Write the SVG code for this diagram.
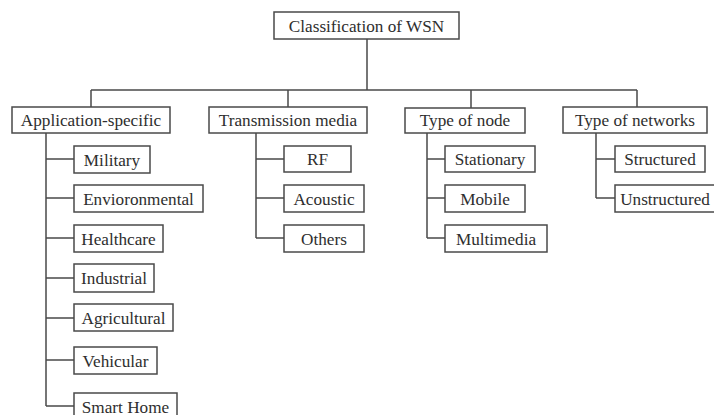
<svg xmlns="http://www.w3.org/2000/svg" width="714" height="415" viewBox="0 0 714 415">
  <style>
    rect { fill: #ffffff; stroke: #4a4a4a; stroke-width: 1.5; }
    text { font-family: "Liberation Serif", "Times New Roman", serif; font-size: 17.2px; fill: #2e2e2e; text-anchor: middle; }
    .conn { fill: none; stroke: #4a4a4a; stroke-width: 1.5; }
  </style>
  <rect x="0" y="0" width="714" height="415" style="stroke:none"/>

  <g id="connectors">
    <!-- root to level-one bus -->
    <path class="conn" d="M367 39 V90 M91 90 H637 M91 90 V107 M288 90 V107 M471 90 V108 M637 90 V107"/>
    <!-- application-specific trunk -->
    <path class="conn" d="M46 133 V406 M46 159 H74 M46 198 H74 M46 238 H74 M46 278 H74 M46 318 H74 M46 360 H74 M46 406 H74"/>
    <!-- transmission media trunk -->
    <path class="conn" d="M256 133 V238 M256 159 H284 M256 198 H284 M256 238 H284"/>
    <!-- type of node trunk -->
    <path class="conn" d="M427 133 V238 M427 159 H445 M427 198 H445 M427 238 H445"/>
    <!-- type of networks trunk -->
    <path class="conn" d="M596 133 V198 M596 159 H615 M596 198 H615"/>
  </g>

  <g id="root">
    <rect x="274" y="12" width="185" height="27"/>
    <text x="366.5" y="31.5">Classification of WSN</text>
  </g>

  <g id="application-specific">
    <rect x="12" y="107" width="158" height="26"/>
    <text x="91" y="126">Application-specific</text>
  </g>
  <g id="transmission-media">
    <rect x="209" y="107" width="158" height="26"/>
    <text x="288" y="126">Transmission media</text>
  </g>
  <g id="type-of-node">
    <rect x="405" y="108" width="120" height="25"/>
    <text x="465" y="126">Type of node</text>
  </g>
  <g id="type-of-networks">
    <rect x="563" y="107" width="144" height="26"/>
    <text x="635" y="126">Type of networks</text>
  </g>

  <g id="military">
    <rect x="74" y="146" width="76" height="27"/>
    <text x="112" y="165.5">Military</text>
  </g>
  <g id="envioronmental">
    <rect x="74" y="185" width="129" height="27"/>
    <text x="138.5" y="204.5">Envioronmental</text>
  </g>
  <g id="healthcare">
    <rect x="74" y="225" width="89" height="27"/>
    <text x="118.5" y="244.5">Healthcare</text>
  </g>
  <g id="industrial">
    <rect x="74" y="264" width="80" height="28"/>
    <text x="114" y="284">Industrial</text>
  </g>
  <g id="agricultural">
    <rect x="74" y="304" width="99" height="27"/>
    <text x="123.5" y="323.5">Agricultural</text>
  </g>
  <g id="vehicular">
    <rect x="74" y="347" width="83" height="27"/>
    <text x="115.5" y="366.5">Vehicular</text>
  </g>
  <g id="smart-home">
    <rect x="74" y="393" width="103" height="27"/>
    <text x="125.5" y="412.5">Smart Home</text>
  </g>

  <g id="rf">
    <rect x="284" y="146" width="67" height="26"/>
    <text x="317.5" y="165">RF</text>
  </g>
  <g id="acoustic">
    <rect x="284" y="185" width="80" height="27"/>
    <text x="324" y="204.5">Acoustic</text>
  </g>
  <g id="others">
    <rect x="284" y="225" width="80" height="27"/>
    <text x="324" y="244.5">Others</text>
  </g>

  <g id="stationary">
    <rect x="445" y="146" width="90" height="26"/>
    <text x="490" y="165">Stationary</text>
  </g>
  <g id="mobile">
    <rect x="445" y="185" width="80" height="27"/>
    <text x="485" y="204.5">Mobile</text>
  </g>
  <g id="multimedia">
    <rect x="445" y="225" width="102" height="27"/>
    <text x="496" y="244.5">Multimedia</text>
  </g>

  <g id="structured">
    <rect x="615" y="146" width="90" height="26"/>
    <text x="660" y="165">Structured</text>
  </g>
  <g id="unstructured">
    <rect x="615" y="185" width="102" height="27"/>
    <text x="665" y="204.5">Unstructured</text>
  </g>
</svg>
